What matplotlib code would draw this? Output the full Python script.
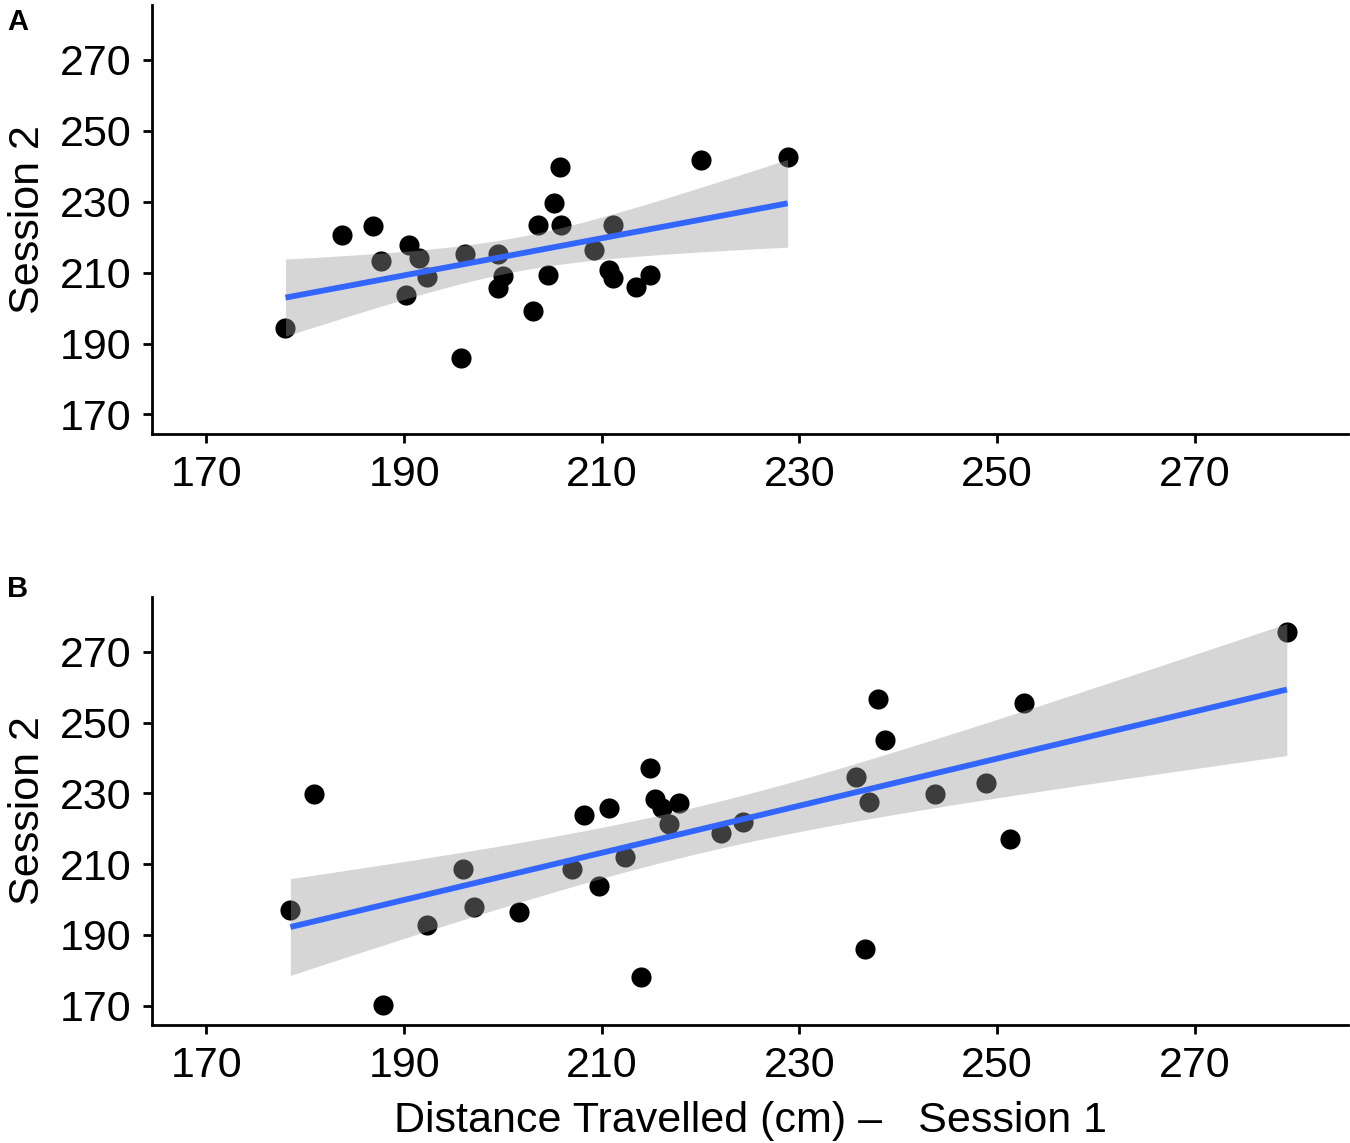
import matplotlib
matplotlib.use("Agg")
import matplotlib.pyplot as plt
import numpy as np

plt.rcParams['font.family'] = ['Liberation Sans', 'DejaVu Sans']

# panel A: session 1 vs session 2 distance (cm)
a_s1 = [178.0, 183.7, 186.9, 187.7, 190.5, 191.5, 192.3, 190.2, 196.2, 195.8,
        199.5, 200.0, 199.5, 203.0, 203.5, 204.6, 205.2, 205.8, 205.9, 209.2,
        211.1, 210.7, 211.1, 213.5, 214.9, 220.0, 228.8]
a_s2 = [194.3, 220.7, 223.2, 213.2, 217.9, 214.1, 208.8, 203.7, 215.3, 185.9,
        215.3, 209.2, 205.7, 199.2, 223.5, 209.4, 229.6, 239.8, 223.5, 216.5,
        223.5, 210.9, 208.6, 206.0, 209.4, 241.9, 242.5]

# panel B
b_s1 = [180.9, 178.5, 187.9, 192.3, 196.0, 197.1, 201.6, 208.2, 210.7, 207.0,
        209.7, 212.3, 214.0, 214.9, 215.4, 216.1, 217.8, 216.8, 222.1, 224.3,
        237.9, 238.7, 235.7, 237.0, 243.7, 248.9, 252.7, 251.3, 236.6, 279.3]
b_s2 = [229.8, 196.9, 170.1, 192.7, 208.5, 197.8, 196.5, 223.9, 225.8, 208.5,
        203.7, 212.0, 178.1, 237.2, 228.3, 225.8, 227.2, 221.3, 218.8, 222.0,
        256.7, 245.1, 234.6, 227.5, 229.8, 232.8, 255.6, 217.1, 186.0, 275.6]

ticks = [170, 190, 210, 230, 250, 270]
t95 = {25: 2.060, 28: 2.048}  # t quantiles for the 95% band


def lm_panel(ax, x, y):
  x = np.array(x)
  y = np.array(y)
  n = len(x)
  b1, b0 = np.polyfit(x, y, 1)
  xs = np.linspace(x.min(), x.max(), 80)
  fit = b0 + b1 * xs
  resid = y - (b0 + b1 * x)
  s = np.sqrt(np.sum(resid**2) / (n - 2))
  se = s * np.sqrt(1.0 / n + (xs - x.mean())**2 / np.sum((x - x.mean())**2))
  t = t95[n - 2]

  ax.scatter(x, y, s=210, color="black", linewidths=0, zorder=2)
  ax.fill_between(xs, fit - t * se, fit + t * se, color="#999999", alpha=0.4,
                  linewidth=0, zorder=3)
  ax.plot(xs, fit, color="#3366FF", lw=4.2, zorder=4, solid_capstyle="butt")

  ax.set_xlim(164.5, 285.5)
  ax.set_ylim(164.5, 285.5)
  ax.set_xticks(ticks)
  ax.set_yticks(ticks)
  for sp in ["top", "right"]:
    ax.spines[sp].set_visible(False)
  for sp in ["left", "bottom"]:
    ax.spines[sp].set_linewidth(2.0)
  ax.tick_params(width=2.0, length=6.5, labelsize=31, colors="black")
  ax.tick_params(axis="y", pad=8)
  ax.tick_params(axis="x", pad=8.5)
  ax.set_ylabel("Session 2", fontsize=31, labelpad=9)


fig = plt.figure(figsize=(13.5, 11.43), dpi=100)
ax1 = fig.add_axes([0.1126, 0.6203, 0.886, 0.3753])
ax2 = fig.add_axes([0.1126, 0.1032, 0.886, 0.3745])

lm_panel(ax1, a_s1, a_s2)
lm_panel(ax2, b_s1, b_s2)
ax2.set_xlabel("Distance Travelled (cm) \u2013   Session 1", fontsize=31, labelpad=11)

fig.text(0.0052, 0.9738, "A", fontsize=21, fontweight="bold", va="baseline", ha="left")
fig.text(0.0052, 0.4777, "B", fontsize=21, fontweight="bold", va="baseline", ha="left")

plt.savefig("out.png", dpi=100)
